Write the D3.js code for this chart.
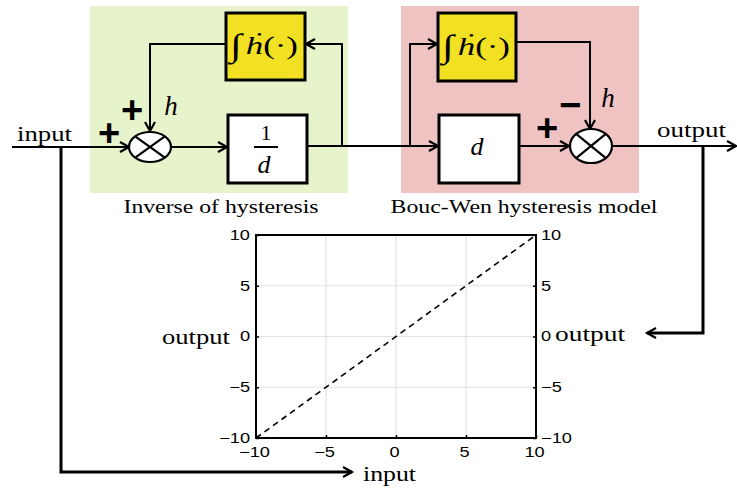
<!DOCTYPE html>
<html><head><meta charset="utf-8">
<script src="https://cdn.jsdelivr.net/npm/d3@7"></script>
<style>body{margin:0;background:#fff}svg{display:block}</style>
</head><body>
<svg id="c" width="737" height="488"></svg>
<script>
// ---- data ----
const xTicks = [-10, -5, 0, 5, 10];
const yTicks = [-10, -5, 0, 5, 10];
const inputVals = [-10, 10];
const outputVals = [-10, 10];
const xDomain = [-10, 10];
const yDomain = [-10, 10];
const blockLabels = ["Inverse of hysteresis", "Bouc-Wen hysteresis model"];
const signalLabels = ["input", "output"];

const svg = d3.select("#c");
const SERIF = "'Liberation Serif','Times New Roman',serif";
const SANS = "'Liberation Sans',Arial,sans-serif";

function fitW(sel, w){ sel.attr("textLength", w).attr("lengthAdjust","spacingAndGlyphs"); return sel; }
function stretch(sel, sx){ sel.each(function(){ const w=this.getComputedTextLength(); this.setAttribute("textLength", w*sx); this.setAttribute("lengthAdjust","spacingAndGlyphs");}); return sel; }

// background panels
svg.append("rect").attr("x",90).attr("y",6).attr("width",258).attr("height",187).attr("fill","#e7f3ca");
svg.append("rect").attr("x",401).attr("y",6).attr("width",238).attr("height",187).attr("fill","#f0c3c3");

const g = svg.append("g");
function line(pts, w){ g.append("path").attr("d", d3.line()(pts)).attr("fill","none").attr("stroke","#000").attr("stroke-width", w||2); }
function arrow(x,y,dir){ // open chevron pointing dir
  const L=9, H=5; let p;
  if(dir==='r') p=[[x-L,y-H],[x,y],[x-L,y+H]];
  if(dir==='l') p=[[x+L,y-H],[x,y],[x+L,y+H]];
  if(dir==='d') p=[[x-H,y-L],[x,y],[x+H,y-L]];
  if(dir==='u') p=[[x-H,y+L],[x,y],[x+H,y+L]];
  line(p, 2.2);
}
function box(x,y,w,h,fill){ g.append("rect").attr("x",x).attr("y",y).attr("width",w).attr("height",h).attr("fill",fill).attr("stroke","#000").attr("stroke-width",3); }
function junction(cx,cy,rx,ry){
  g.append("ellipse").attr("cx",cx).attr("cy",cy).attr("rx",rx).attr("ry",ry).attr("fill","#fff").attr("stroke","#000").attr("stroke-width",2.2);
  const dx=rx*Math.SQRT1_2, dy=ry*Math.SQRT1_2;
  line([[cx-dx,cy-dy],[cx+dx,cy+dy]],2.2); line([[cx-dx,cy+dy],[cx+dx,cy-dy]],2.2);
}

// signal lines
line([[12,147],[129,147]]); arrow(129,147,'r');
line([[171,147],[227,147]]); arrow(227,147,'r');
line([[307,146],[438,146]]); arrow(438,146,'r');
line([[342,146],[342,44],[306,44]]); arrow(306,44,'l');
line([[226,44],[150,44],[150,131]]); arrow(150,131,'d');
line([[410,146],[410,44],[437,44]]); arrow(437,44,'r');
line([[516,42],[590,42],[590,129]]); arrow(590,129,'d');
line([[519,146],[569,146]]); arrow(569,146,'r');
line([[612,146],[736,146]]); arrow(736,146,'r');
line([[703,146],[703,333],[647,333]],3); arrow(647,333,'l');
line([[61,147],[61,472],[352,472]],3); arrow(352,472,'r');

// blocks
box(226,13,79,67,"#f2e022");
box(438,13,78,68,"#f2e022");
box(228,115,79,68,"#fff");
box(439,115,80,68,"#fff");
junction(150,147,21,15);
junction(591,146,21,17);

// block contents
function integ(x, y, w){
  const t = g.append("text").attr("x",x).attr("y",y).attr("font-family",SERIF).attr("font-size",26);
  t.append("tspan").attr("font-size",32).attr("dy",2).text("∫");
  t.append("tspan").attr("font-style","italic").attr("dx",3).attr("dy",-2).text("ḣ");
  t.append("tspan").text("(·)");
  fitW(t, w);
}
integ(230,54,68);
integ(442,55,68);
g.append("text").attr("x",266).attr("y",140).attr("text-anchor","middle").attr("font-family",SERIF).attr("font-size",22).text("1");
line([[254,147],[278,147]],2);
g.append("text").attr("x",264).attr("y",173).attr("text-anchor","middle").attr("font-family",SERIF).attr("font-style","italic").attr("font-size",26).text("d");
g.append("text").attr("x",477).attr("y",155).attr("text-anchor","middle").attr("font-family",SERIF).attr("font-style","italic").attr("font-size",26).text("d");

// signs and h
function sign(txt,cx,cy){ g.append("text").attr("x",cx).attr("y",cy+13).attr("text-anchor","middle").attr("font-family",SANS).attr("font-weight","bold").attr("font-size",38).text(txt); }
sign("+",132,110); sign("+",109,133); sign("+",547,128); sign("−",570,105);
g.append("text").attr("x",171).attr("y",115).attr("text-anchor","middle").attr("font-family",SERIF).attr("font-style","italic").attr("font-size",27).text("h");
g.append("text").attr("x",608).attr("y",107).attr("text-anchor","middle").attr("font-family",SERIF).attr("font-style","italic").attr("font-size",27).text("h");

// labels
fitW(g.append("text").attr("x",17).attr("y",141).attr("font-family",SERIF).attr("font-size",22).text(signalLabels[0]),55);
fitW(g.append("text").attr("x",657).attr("y",137).attr("font-family",SERIF).attr("font-size",22).text(signalLabels[1]),69);
fitW(g.append("text").attr("x",221).attr("y",213).attr("text-anchor","middle").attr("font-family",SERIF).attr("font-size",18).text(blockLabels[0]),195);
fitW(g.append("text").attr("x",524).attr("y",213).attr("text-anchor","middle").attr("font-family",SERIF).attr("font-size",18).text(blockLabels[1]),267);

// ---- chart ----
const x = d3.scaleLinear().domain(xDomain).range([256,536]);
const y = d3.scaleLinear().domain(yDomain).range([438,235]);
const ch = svg.append("g");
// grid
ch.selectAll(".gx").data(xTicks).join("line").attr("x1",d=>x(d)).attr("x2",d=>x(d)).attr("y1",y(10)).attr("y2",y(-10)).attr("stroke","#e2e2e2").attr("stroke-width",1.2);
ch.selectAll(".gy").data(yTicks).join("line").attr("y1",d=>y(d)).attr("y2",d=>y(d)).attr("x1",x(-10)).attr("x2",x(10)).attr("stroke","#e2e2e2").attr("stroke-width",1.2);
// data line
ch.append("path").datum(inputVals.map((v,i)=>[v,outputVals[i]]))
  .attr("d", d3.line().x(d=>x(d[0])).y(d=>y(d[1])))
  .attr("fill","none").attr("stroke","#000").attr("stroke-width",1.6).attr("stroke-dasharray","6,4.5");
// axes
function styleAxis(a){ a.select(".domain").remove(); a.selectAll(".tick line").attr("stroke","#000").attr("stroke-width",1.5);
  a.selectAll(".tick text").attr("font-family",SANS).attr("font-size",14).attr("fill","#000"); }
const ax = ch.append("g").attr("transform","translate(0,438)").call(d3.axisBottom(x).tickValues(xTicks).tickSize(-3).tickPadding(6).tickFormat(d3.format("")));
styleAxis(ax); ax.selectAll(".tick text").attr("dy","0.9em").attr("dx",-2);
const ay = ch.append("g").attr("transform","translate(256,0)").call(d3.axisLeft(y).tickValues(yTicks).tickSize(-3).tickPadding(6).tickFormat(d3.format("")));
styleAxis(ay);
const ay2 = ch.append("g").attr("transform","translate(536,0)").call(d3.axisRight(y).tickValues(yTicks).tickSize(-3).tickPadding(5).tickFormat(d3.format("")));
styleAxis(ay2);
[ax,ay,ay2].forEach(a=>stretch(a.selectAll(".tick text"),1.3));
ch.append("rect").attr("x",256).attr("y",235).attr("width",280).attr("height",203).attr("fill","none").attr("stroke","#000").attr("stroke-width",2);
// axis titles
fitW(ch.append("text").attr("x",162).attr("y",344).attr("font-family",SERIF).attr("font-size",22).text(signalLabels[1]),68);
fitW(ch.append("text").attr("x",555).attr("y",341).attr("font-family",SERIF).attr("font-size",22).text(signalLabels[1]),70);
fitW(ch.append("text").attr("x",363).attr("y",481).attr("font-family",SERIF).attr("font-size",22).text(signalLabels[0]),53);
</script>
</body></html>
